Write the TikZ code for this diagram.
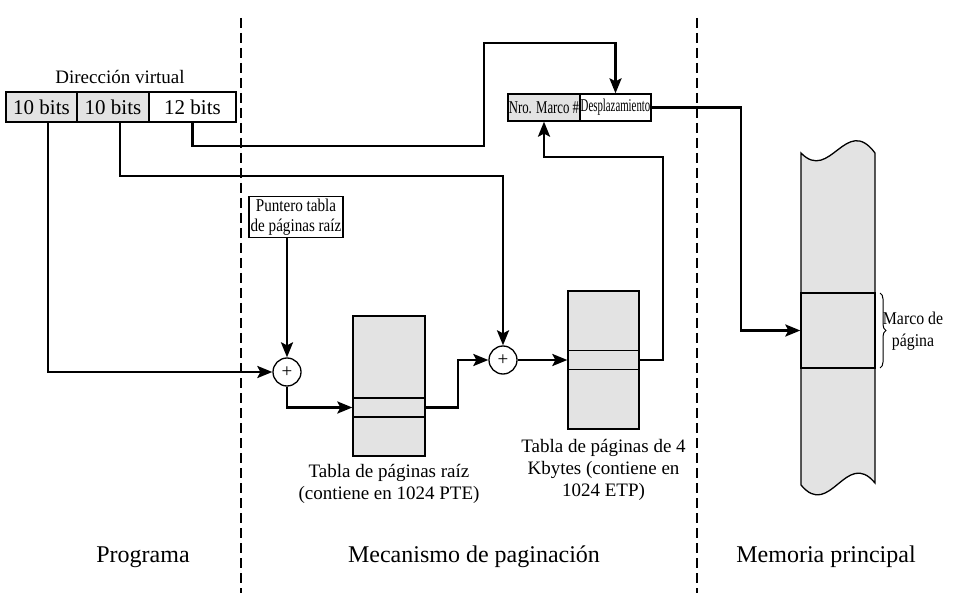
\documentclass[tikz,border=0pt]{standalone}
\usepackage{fontspec}
\setmainfont{Liberation Serif}
\usetikzlibrary{positioning,arrows.meta,decorations.pathreplacing}
\tikzset{field box/.style={rectangle,draw,line width=1.3pt,minimum height=30pt,inner sep=0pt,font=\fontsize{21}{24}\selectfont}}
\tikzset{table box/.style={rectangle,draw,line width=1.3pt,fill=black!11,minimum width=72pt,inner sep=0pt}}
\tikzset{adder node/.style={circle,draw,line width=1.3pt,fill=white,minimum size=28pt,inner sep=0pt,font=\fontsize{19}{19}\selectfont}}
\tikzset{flow/.style={line width=2.6pt,-{Stealth[length=15pt,width=12pt,inset=3pt]}}}
\tikzset{zone line/.style={line width=2.8pt,dash pattern=on 10pt off 5pt}}
\tikzset{zone label/.style={font=\fontsize{24}{28}\selectfont}}
\tikzset{caption/.style={font=\fontsize{19}{22}\selectfont,align=center,inner sep=0pt}}

\begin{document}
\begin{tikzpicture}[x=1pt,y=-1pt]
            \useasboundingbox (0,0) rectangle (955,601);
            % zones
            \draw[zone line] (241,18) -- (241,593);
            \draw[zone line] (697,18) -- (697,593);
            \node[zone label] (prog) at (143,557) {Programa};
            \node[zone label] (mec) at (474,557) {Mecanismo de paginación};
            \node[zone label] (mem) at (826,557) {Memoria principal};

            % virtual address
            \node[field box, fill=black!11, minimum width=71pt] (va1) at (41.5,107) {10 bits};
            \node[field box, fill=black!11, minimum width=72pt] (va2) at (113,107) {10 bits};
            \node[field box, minimum width=87pt] (va3) at (192.5,107) {12 bits};
            \node[caption] (vlabel) at (120,77) {Dirección virtual};

            % real address
            \node[field box, fill=black!11, minimum width=72pt, minimum height=27pt, font=\fontsize{18}{18}\selectfont] (fr) at (544,107.5) {\scalebox{0.71}[1]{Nro. Marco \#}};
            \node[field box, fill=white, minimum width=71pt, minimum height=27pt, font=\fontsize{18}{18}\selectfont] (off) at (615.5,107.5) {\scalebox{0.6}[1]{Desplazamiento}};

            % page tables
            \node[draw, line width=1.3pt, align=center, inner sep=2pt, font=\fontsize{18}{20}\selectfont, xscale=0.84] (ptr) at (296,217) {Puntero tabla\\de páginas raíz};
            \node[adder node] (add1) at (287,372) {+};
            \node[table box, minimum height=140pt] (t1) at (389,386) {};
            \node[table box, minimum height=19pt] (e1) at (389,407.5) {};
            \node[caption, below=7pt of t1] (t1cap) {Tabla de páginas raíz\\(contiene en 1024 PTE)};
            \node[adder node] (add2) at (503,360) {+};
            \node[table box, minimum width=71pt, minimum height=138pt] (t2) at (603.5,360) {};
            \node[table box, minimum width=71pt, minimum height=19pt] (e2) at (603.5,360) {};
            \node[caption, below=9pt of t2] (t2cap) {Tabla de páginas de 4\\Kbytes (contiene en\\1024 ETP)};

            % main memory
            \draw[line width=1.3pt, fill=black!11] (801,153) .. controls (830,183) and (846,114) .. (875,153)
                -- (875,483) .. controls (846,448) and (830,520) .. (801,485) -- cycle;
            \node[table box, minimum width=74pt, minimum height=75pt] (mf) at (838,330.5) {};
            \draw[decorate, decoration={brace,amplitude=6pt}, line width=1pt] (880,293) -- (880,368);
            \node[caption, font=\fontsize{18}{22}\selectfont, xscale=0.88] (mflabel) at (913,331) {Marco de\\página};

            % bends
            \coordinate (k2) at (503,176);
            \coordinate (k3low) at (484,146);
            \coordinate (k3top) at (484,43);
            \coordinate (k4) at (458,360);
            \coordinate (k5) at (663,157);
            \coordinate (k6) at (741,330.5);

            \draw[flow] ([xshift=6.5pt]va1.south) |- (add1);
            \draw[flow] ([xshift=7pt]va2.south) |- (k2) -- (add2);
            \draw[flow] (va3.south) |- (k3low) -- (k3top) -| (off.north);
            \draw[flow] (ptr.south -| add1) -- (add1);
            \draw[flow] (add1.south) |- (e1.west);
            \draw[flow] (e1.east) -| (k4) -- (add2);
            \draw[flow] (add2) -- (e2.west);
            \draw[flow] (e2.east) -| (k5) -| (fr.south);
            \draw[flow] (off.east) -| (k6) -- (mf.west);
        \end{tikzpicture}
\end{document}
